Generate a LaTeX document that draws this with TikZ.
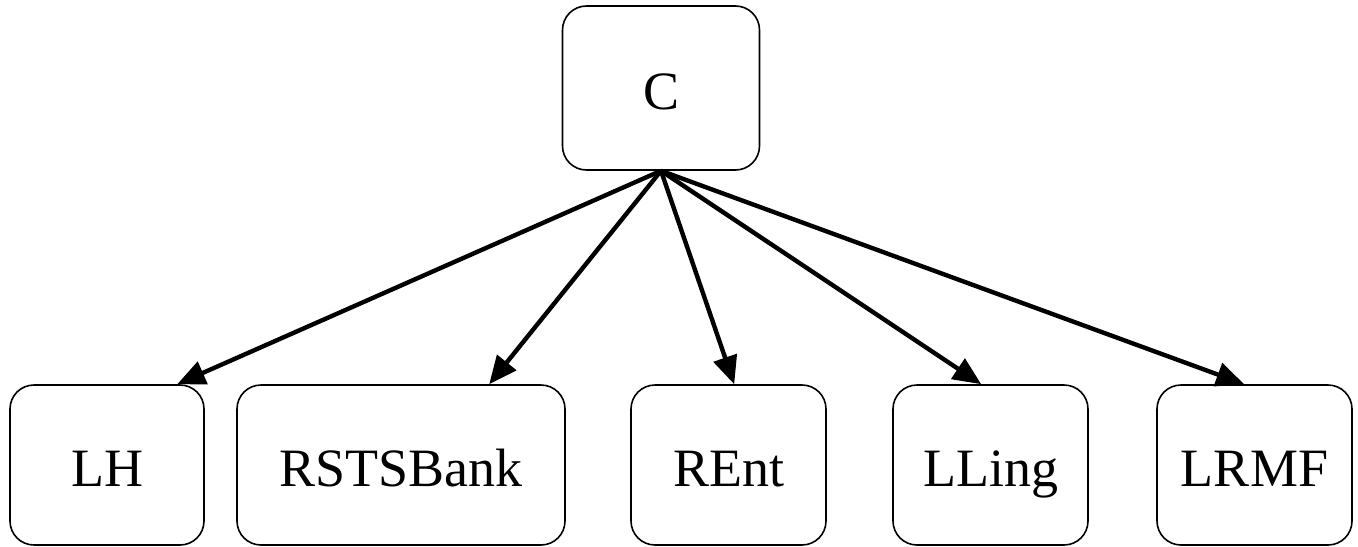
\documentclass[tikz,border=0pt]{standalone}
\usepackage{fontspec}
\setmainfont{Liberation Serif}
\usetikzlibrary{arrows.meta}
\begin{document}
\begin{tikzpicture}[x=0.5pt, y=-0.5pt, line join=round,
		box/.style={draw, line width=0.8pt, rounded corners=12pt, minimum height=80pt, inner sep=0pt,
			text height=21pt, text depth=0pt, font=\fontsize{27}{32}\selectfont},
		edge/.style={line width=2.2pt, -{Triangle[length=14pt,width=12pt]}}]
	\useasboundingbox (0,0) rectangle (1358,546);
	\node[box, minimum width=98.5pt, minimum height=82pt] (c) at (661,88) {C};
	\node[box, minimum width=97pt] (lh) at (107,465) {LH};
	\node[box, minimum width=164pt] (rsts) at (401,465) {RSTSBank};
	\node[box, minimum width=97.5pt] (rent) at (728.5,465) {REnt};
	\node[box, minimum width=97.5pt] (lling) at (990.5,465) {LLing};
	\node[box, minimum width=97.5pt] (lrmf) at (1254.5,465) {LRMF};
	\draw[edge] (c.south) -- ([xshift=84pt]lh.north west);
	\draw[edge] (c.south) -- ([xshift=126.5pt]rsts.north west);
	\draw[edge] (c.south) -- ([xshift=52pt]rent.north west);
	\draw[edge] (c.south) -- ([xshift=44.5pt]lling.north west);
	\draw[edge] (c.south) -- ([xshift=44pt]lrmf.north west);
\end{tikzpicture}
\end{document}
